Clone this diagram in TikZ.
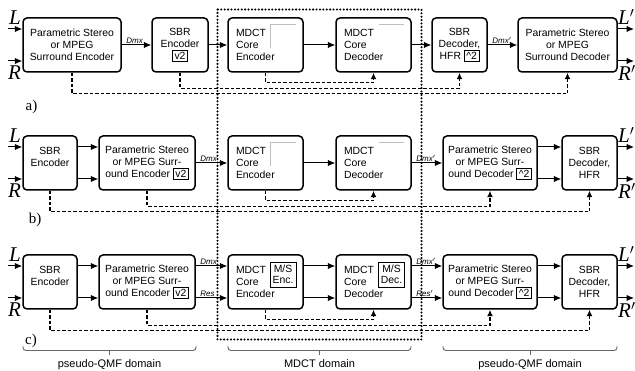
\documentclass[tikz,border=0pt]{standalone}
\usepackage{fontspec}
\setmainfont{Liberation Sans}
\newfontfamily\tms{Liberation Serif}
\usetikzlibrary{arrows.meta}
\newcommand\ibox[1]{{\setlength{\fboxsep}{1.6pt}\setlength{\fboxrule}{0.7pt}\fbox{#1}}}
\begin{document}
\begin{tikzpicture}[x=1pt,y=-1pt,
  box/.style={draw, line width=1.5pt, rounded corners=4pt, inner sep=0pt, minimum height=54pt, align=center, font=\fontsize{10.4}{12.2}\selectfont},
  lbox/.style={box, align=left, inner xsep=8pt, inner ysep=0pt, text width=59pt},
  arr/.style={line width=1pt, -{Latex[length=7.5pt,width=6.5pt]}},
  dsh/.style={line width=1.4pt, dash pattern=on 3.5pt off 2pt, -{Latex[length=6.5pt,width=6pt]}},
  sig/.style={font=\fontsize{8}{9}\selectfont\itshape, inner sep=0.5pt, anchor=south west},
  io/.style={font=\fontsize{21}{21}\selectfont\tms\itshape, inner sep=0pt},
  lab/.style={font=\fontsize{15}{15}\selectfont\tms, inner sep=0pt},
  ms/.style={draw, line width=0.7pt, inner sep=1.5pt, align=center, font=\fontsize{10.4}{11.5}\selectfont, minimum width=26pt, minimum height=25pt},
  ghost/.style={draw=black!25, line width=0.6pt},
  brc/.style={draw=black!60, line width=0.9pt, rounded corners=3pt},
  dom/.style={font=\fontsize{11}{12}\selectfont, inner sep=0pt},
  dots/.style={line width=2.3pt, dash pattern=on 0pt off 3.4pt, line cap=round},
]
\useasboundingbox (0,0) rectangle (635,371);

% ---------------- row a ----------------
\node[box, minimum width=98pt] (pse1) at (72,45) {Parametric Stereo\\or MPEG\\Surround Encoder};
\node[box, minimum width=56pt] (sbre1) at (180,45) {SBR\\Encoder\\\ibox{v2}};
\node[lbox] (mce1) at (265.5,45) {MDCT\\Core\\Encoder};
\node[lbox] (mcd1) at (373.5,45) {MDCT\\Core\\Decoder};
\node[box, minimum width=55pt] (sbrd1) at (459.5,45) {SBR\\Decoder,\\HFR \ibox{\textasciicircum 2}};
\node[box, minimum width=99pt] (psd1) at (567.5,45) {Parametric Stereo\\or MPEG\\Surround Decoder};
\draw[ghost] (270,48) -- (270,24.5) -- (296,24.5);
\draw[ghost] (379,24.5) -- (404,24.5);

\coordinate (iL1) at (8,29); \coordinate (iR1) at (8,61);
\coordinate (oL1) at (634,29); \coordinate (oR1) at (634,61);
\draw[arr] (iL1) -- (iL1 -| pse1.west);
\draw[arr] (iR1) -- (iR1 -| pse1.west);
\draw[arr] (oL1 -| psd1.east) -- (oL1);
\draw[arr] (oR1 -| psd1.east) -- (oR1);
\node[io] (L1) at (15,17.5) {L};
\node[io] (R1) at (14.5,73) {R};
\node[io, anchor=west] (Lp1) at (618,17) {L$'$};
\node[io, anchor=west] (Rp1) at (618,73) {R$'$};

\draw[arr] (pse1) -- (sbre1);
\node[sig] (dmx1) at ([xshift=4pt,yshift=0.5pt]pse1.east) {Dmx};
\draw[arr] (sbre1) -- (mce1);
\draw[arr] (mce1) -- (mcd1);
\draw[arr] (mcd1) -- (sbrd1);
\draw[arr] (sbrd1) -- (psd1);
\node[sig] (dmxp1) at ([xshift=4pt,yshift=0.5pt]sbrd1.east) {Dmx$'$};

\draw[dsh] (mce1.south) -- ++(0,10) -| (mcd1.south);
\draw[dsh] (sbre1.south) -- ++(0,15.5) -| (sbrd1.south);
\draw[dsh] (pse1.south) -- ++(0,21) -| (psd1.south);
\node[lab] (la) at (31.5,106.5) {a)};

% ---------------- row b ----------------
\node[box, minimum width=54pt] (sbre2) at (50,163) {SBR\\Encoder\\~};
\node[box, minimum width=96pt] (pse2) at (147,163) {Parametric Stereo\\or MPEG Surr-\\ound Encoder \ibox{v2}};
\node[lbox] (mce2) at (265.5,163) {MDCT\\Core\\Encoder};
\node[lbox] (mcd2) at (373.5,163) {MDCT\\Core\\Decoder};
\node[box, minimum width=94pt] (psd2) at (490,163) {Parametric Stereo\\or MPEG Surr-\\ound Decoder \ibox{\textasciicircum 2}};
\node[box, minimum width=55pt] (sbrd2) at (589.5,163) {SBR\\Decoder,\\HFR};
\draw[ghost] (270,166) -- (270,142.5) -- (296,142.5);
\draw[ghost] (379,142.5) -- (404,142.5);

\coordinate (iL2) at (8,147); \coordinate (iR2) at (8,179);
\coordinate (oL2) at (634,147); \coordinate (oR2) at (634,179);
\draw[arr] (iL2) -- (iL2 -| sbre2.west);
\draw[arr] (iR2) -- (iR2 -| sbre2.west);
\draw[arr] (oL2 -| sbrd2.east) -- (oL2);
\draw[arr] (oR2 -| sbrd2.east) -- (oR2);
\node[io] (L2) at (15,136) {L};
\node[io] (R2) at (14.5,191) {R};
\node[io, anchor=west] (Lp2) at (618,135) {L$'$};
\node[io, anchor=west] (Rp2) at (618,191) {R$'$};

\draw[arr] ([yshift=16pt]sbre2.east) -- ([yshift=16pt]sbre2.east -| pse2.west);
\draw[arr] ([yshift=-16pt]sbre2.east) -- ([yshift=-16pt]sbre2.east -| pse2.west);
\draw[arr] (pse2) -- (mce2);
\node[sig] (dmx2) at ([xshift=4pt,yshift=0.5pt]pse2.east) {Dmx};
\draw[arr] (mce2) -- (mcd2);
\draw[arr] (mcd2) -- (psd2);
\node[sig] (dmxp2) at ([xshift=4pt,yshift=0.5pt]mcd2.east) {Dmx$'$};
\draw[arr] ([yshift=16pt]psd2.east) -- ([yshift=16pt]psd2.east -| sbrd2.west);
\draw[arr] ([yshift=-16pt]psd2.east) -- ([yshift=-16pt]psd2.east -| sbrd2.west);

\draw[dsh] (mce2.south) -- ++(0,10) -| (mcd2.south);
\draw[dsh] (pse2.south) -- ++(0,15.5) -| (psd2.south);
\draw[dsh] (sbre2.south) -- ++(0,21) -| (sbrd2.south);
\node[lab] (lb) at (35,220) {b)};

% ---------------- row c ----------------
\node[box, minimum width=54pt] (sbre3) at (50,282) {SBR\\Encoder\\~};
\node[box, minimum width=96pt] (pse3) at (147,282) {Parametric Stereo\\or MPEG Surr-\\ound Encoder \ibox{v2}};
\node[lbox] (mce3) at (265.5,282) {MDCT\\Core\\Encoder};
\node[lbox] (mcd3) at (373.5,282) {MDCT\\Core\\Decoder};
\node[box, minimum width=94pt] (psd3) at (490,282) {Parametric Stereo\\or MPEG Surr-\\ound Decoder \ibox{\textasciicircum 2}};
\node[box, minimum width=55pt] (sbrd3) at (589.5,282) {SBR\\Decoder,\\HFR};
\node[ms] (mse3) at (283,274.5) {M/S\\Enc.};
\node[ms] (msd3) at (391.5,274.5) {M/S\\Dec.};

\coordinate (iL3) at (8,266); \coordinate (iR3) at (8,298);
\coordinate (oL3) at (634,266); \coordinate (oR3) at (634,298);
\draw[arr] (iL3) -- (iL3 -| sbre3.west);
\draw[arr] (iR3) -- (iR3 -| sbre3.west);
\draw[arr] (oL3 -| sbrd3.east) -- (oL3);
\draw[arr] (oR3 -| sbrd3.east) -- (oR3);
\node[io] (L3) at (15,255) {L};
\node[io] (R3) at (14.5,310) {R};
\node[io, anchor=west] (Lp3) at (618,254) {L$'$};
\node[io, anchor=west] (Rp3) at (618,310) {R$'$};

\draw[arr] ([yshift=16pt]sbre3.east) -- ([yshift=16pt]sbre3.east -| pse3.west);
\draw[arr] ([yshift=-16pt]sbre3.east) -- ([yshift=-16pt]sbre3.east -| pse3.west);
\draw[arr] ([yshift=16pt]pse3.east) -- ([yshift=16pt]pse3.east -| mce3.west);
\draw[arr] ([yshift=-16pt]pse3.east) -- ([yshift=-16pt]pse3.east -| mce3.west);
\node[sig] (dmx3) at ([xshift=4pt,yshift=16.5pt]pse3.east) {Dmx};
\node[sig] (res3) at ([xshift=4pt,yshift=-15.5pt]pse3.east) {Res};
\draw[arr] ([yshift=16pt]mce3.east) -- ([yshift=16pt]mce3.east -| mcd3.west);
\draw[arr] ([yshift=-16pt]mce3.east) -- ([yshift=-16pt]mce3.east -| mcd3.west);
\draw[arr] ([yshift=16pt]mcd3.east) -- ([yshift=16pt]mcd3.east -| psd3.west);
\draw[arr] ([yshift=-16pt]mcd3.east) -- ([yshift=-16pt]mcd3.east -| psd3.west);
\node[sig] (dmxp3) at ([xshift=4pt,yshift=16.5pt]mcd3.east) {Dmx$'$};
\node[sig] (resp3) at ([xshift=4pt,yshift=-15.5pt]mcd3.east) {Res$'$};
\draw[arr] ([yshift=16pt]psd3.east) -- ([yshift=16pt]psd3.east -| sbrd3.west);
\draw[arr] ([yshift=-16pt]psd3.east) -- ([yshift=-16pt]psd3.east -| sbrd3.west);

\draw[dsh] (mce3.south) -- ++(0,10) -| (mcd3.south);
\draw[dsh] (pse3.south) -- ++(0,15.5) -| (psd3.south);
\draw[dsh] (sbre3.south) -- ++(0,21) -| (sbrd3.south);
\node[lab] (lc) at (31,341) {c)};

% ---------------- MDCT region and braces ----------------
\draw[dots] (217.5,9.5) rectangle (421.5,339.5);

\draw[brc] (23,346) -- (23,350.5) -- (196,350.5) -- (196,346);
\draw[brc] (109.5,350.5) -- (109.5,355);
\draw[brc] (228,346) -- (228,350.5) -- (411,350.5) -- (411,346);
\draw[brc] (319.5,350.5) -- (319.5,355);
\draw[brc] (443,346) -- (443,350.5) -- (617,350.5) -- (617,346);
\draw[brc] (530,350.5) -- (530,355);
\node[dom] (d1) at (109.5,365) {pseudo-QMF domain};
\node[dom] (d2) at (319.5,364) {MDCT domain};
\node[dom] (d3) at (530,365) {pseudo-QMF domain};
\end{tikzpicture}
\end{document}
